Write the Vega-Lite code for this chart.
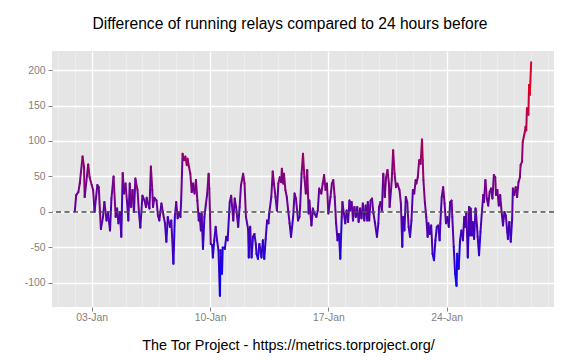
{
"$schema": "https://vega.github.io/schema/vega-lite/v6.json",
"width": 502, "height": 256,
"autosize": {"type": "none"},
"padding": {"left": 52, "top": 51, "right": 22, "bottom": 53},
"background": "white",
"config": {"view": {"fill": "#E5E5E5", "stroke": null}, "font": "Liberation Sans",
"axisY": {
"values": [-125, -100, -75, -50, -25, 0, 25, 50, 75, 100, 125, 150, 175, 200, 225],
"labelExpr": "datum.value % 50 == 0 ? '' + datum.value : ''",
"grid": true,
"gridColor": {"condition": {"test": "datum.value % 50 == 0", "value": "#FFFFFF"}, "value": "#F2F2F2"},
"gridWidth": {"condition": {"test": "datum.value % 50 == 0", "value": 1.3}, "value": 0.6},
"tickColor": {"condition": {"test": "datum.value % 50 == 0", "value": "#7F7F7F"}, "value": "transparent"},
"tickSize": 4, "tickWidth": 1,
"domain": false,
"labelColor": "#7F7F7F", "labelFontSize": 10.4, "labelPadding": 3, "labelOverlap": false, "labelFlush": false,
"title": null
}},
"title": {"text": "Difference of running relays compared to 24 hours before", "fontSize": 15.6, "fontWeight": "normal", "color": "#000000", "font": "Liberation Sans", "anchor": "middle", "offset": 18, "dx": -13},
"data": {"format": {"parse": {"t": "date"}}, "values": [
{"t":"2014-01-02T00:00","v":1},{"t":"2014-01-02T02:00","v":24},{"t":"2014-01-02T05:00","v":28},{"t":"2014-01-02T07:00","v":40},{"t":"2014-01-02T11:00","v":78},{"t":"2014-01-02T13:00","v":64},{"t":"2014-01-02T14:00","v":21},{"t":"2014-01-02T19:00","v":67},{"t":"2014-01-02T21:00","v":49},
{"t":"2014-01-03T00:00","v":38},{"t":"2014-01-03T02:00","v":31},{"t":"2014-01-03T04:00","v":0},{"t":"2014-01-03T08:00","v":38},{"t":"2014-01-03T10:00","v":35},{"t":"2014-01-03T13:00","v":-24},{"t":"2014-01-03T16:00","v":-7},{"t":"2014-01-03T18:00","v":14},{"t":"2014-01-03T21:00","v":-12},{"t":"2014-01-03T23:00","v":0},
{"t":"2014-01-04T02:00","v":-26},{"t":"2014-01-04T04:00","v":19},{"t":"2014-01-04T07:00","v":50},{"t":"2014-01-04T10:00","v":-7},{"t":"2014-01-04T12:00","v":5},{"t":"2014-01-04T14:00","v":-16},{"t":"2014-01-04T16:00","v":0},{"t":"2014-01-04T18:00","v":-35},{"t":"2014-01-04T20:00","v":55},{"t":"2014-01-04T22:00","v":26},
{"t":"2014-01-05T00:00","v":40},{"t":"2014-01-05T02:00","v":16},{"t":"2014-01-05T04:00","v":-12},{"t":"2014-01-05T06:00","v":40},{"t":"2014-01-05T08:00","v":7},{"t":"2014-01-05T10:00","v":31},{"t":"2014-01-05T12:00","v":0},{"t":"2014-01-05T14:00","v":47},{"t":"2014-01-05T17:00","v":31},{"t":"2014-01-05T19:00","v":0},{"t":"2014-01-05T21:00","v":-22},
{"t":"2014-01-06T00:00","v":23},{"t":"2014-01-06T03:00","v":16},{"t":"2014-01-06T05:00","v":7},{"t":"2014-01-06T06:00","v":20},{"t":"2014-01-06T08:00","v":12},{"t":"2014-01-06T10:00","v":5},{"t":"2014-01-06T12:00","v":64},{"t":"2014-01-06T14:00","v":31},{"t":"2014-01-06T15:00","v":7},{"t":"2014-01-06T17:00","v":20},{"t":"2014-01-06T20:00","v":16},{"t":"2014-01-06T22:00","v":-5},
{"t":"2014-01-07T00:00","v":-12},{"t":"2014-01-07T03:00","v":12},{"t":"2014-01-07T05:00","v":0},{"t":"2014-01-07T08:00","v":-16},{"t":"2014-01-07T10:00","v":-42},{"t":"2014-01-07T12:00","v":-7},{"t":"2014-01-07T15:00","v":-21},{"t":"2014-01-07T17:00","v":-12},{"t":"2014-01-07T20:00","v":-73},{"t":"2014-01-07T22:00","v":-7},
{"t":"2014-01-08T00:00","v":14},{"t":"2014-01-08T02:00","v":-9},{"t":"2014-01-08T04:00","v":0},{"t":"2014-01-08T06:00","v":-7},{"t":"2014-01-08T07:00","v":16},{"t":"2014-01-08T09:00","v":82},{"t":"2014-01-08T11:00","v":73},{"t":"2014-01-08T13:00","v":78},{"t":"2014-01-08T15:00","v":66},{"t":"2014-01-08T16:00","v":75},{"t":"2014-01-08T18:00","v":64},{"t":"2014-01-08T20:00","v":54},{"t":"2014-01-08T22:00","v":28},
{"t":"2014-01-09T00:00","v":40},{"t":"2014-01-09T02:00","v":26},{"t":"2014-01-09T04:00","v":45},{"t":"2014-01-09T06:00","v":16},{"t":"2014-01-09T08:00","v":-12},{"t":"2014-01-09T09:00","v":-2},{"t":"2014-01-09T11:00","v":-26},{"t":"2014-01-09T12:00","v":-2},{"t":"2014-01-09T14:00","v":-52},{"t":"2014-01-09T16:00","v":-7},{"t":"2014-01-09T18:00","v":10},{"t":"2014-01-09T20:00","v":26},{"t":"2014-01-09T22:00","v":54},{"t":"2014-01-09T23:00","v":33},
{"t":"2014-01-10T01:00","v":-45},{"t":"2014-01-10T03:00","v":-47},{"t":"2014-01-10T04:00","v":-64},{"t":"2014-01-10T06:00","v":-40},{"t":"2014-01-10T08:00","v":-21},{"t":"2014-01-10T10:00","v":-40},{"t":"2014-01-10T12:00","v":-54},{"t":"2014-01-10T14:00","v":-118},{"t":"2014-01-10T15:00","v":-54},{"t":"2014-01-10T17:00","v":-87},{"t":"2014-01-10T18:00","v":-50},{"t":"2014-01-10T21:00","v":-52},{"t":"2014-01-10T23:00","v":-35},
{"t":"2014-01-11T01:00","v":-40},{"t":"2014-01-11T04:00","v":14},{"t":"2014-01-11T06:00","v":23},{"t":"2014-01-11T09:00","v":-12},{"t":"2014-01-11T11:00","v":19},{"t":"2014-01-11T13:00","v":7},{"t":"2014-01-11T16:00","v":-21},{"t":"2014-01-11T18:00","v":7},{"t":"2014-01-11T20:00","v":38},{"t":"2014-01-11T23:00","v":54},
{"t":"2014-01-12T01:00","v":40},{"t":"2014-01-12T03:00","v":-7},{"t":"2014-01-12T06:00","v":-24},{"t":"2014-01-12T07:00","v":-64},{"t":"2014-01-12T09:00","v":-21},{"t":"2014-01-12T11:00","v":-64},{"t":"2014-01-12T13:00","v":-35},{"t":"2014-01-12T15:00","v":-31},{"t":"2014-01-12T17:00","v":-45},{"t":"2014-01-12T18:00","v":-59},{"t":"2014-01-12T20:00","v":-66},{"t":"2014-01-12T22:00","v":-45},
{"t":"2014-01-13T01:00","v":-64},{"t":"2014-01-13T03:00","v":-40},{"t":"2014-01-13T05:00","v":-66},{"t":"2014-01-13T07:00","v":-38},{"t":"2014-01-13T09:00","v":-12},{"t":"2014-01-13T11:00","v":-16},{"t":"2014-01-13T12:00","v":-2},{"t":"2014-01-13T15:00","v":21},{"t":"2014-01-13T17:00","v":57},{"t":"2014-01-13T19:00","v":38},{"t":"2014-01-13T21:00","v":21},{"t":"2014-01-13T23:00","v":2},
{"t":"2014-01-14T01:00","v":40},{"t":"2014-01-14T03:00","v":49},{"t":"2014-01-14T05:00","v":42},{"t":"2014-01-14T06:00","v":61},{"t":"2014-01-14T08:00","v":40},{"t":"2014-01-14T09:00","v":54},{"t":"2014-01-14T11:00","v":31},{"t":"2014-01-14T13:00","v":21},{"t":"2014-01-14T15:00","v":2},{"t":"2014-01-14T17:00","v":-16},{"t":"2014-01-14T19:00","v":-35},{"t":"2014-01-14T22:00","v":-7},
{"t":"2014-01-15T00:00","v":26},{"t":"2014-01-15T02:00","v":19},{"t":"2014-01-15T05:00","v":-12},{"t":"2014-01-15T07:00","v":-7},{"t":"2014-01-15T08:00","v":9},{"t":"2014-01-15T10:00","v":54},{"t":"2014-01-15T12:00","v":82},{"t":"2014-01-15T14:00","v":49},{"t":"2014-01-15T16:00","v":26},{"t":"2014-01-15T18:00","v":59},{"t":"2014-01-15T20:00","v":-2},{"t":"2014-01-15T21:00","v":16},
{"t":"2014-01-16T00:00","v":-19},{"t":"2014-01-16T02:00","v":5},{"t":"2014-01-16T04:00","v":-2},{"t":"2014-01-16T07:00","v":-7},{"t":"2014-01-16T09:00","v":2},{"t":"2014-01-16T11:00","v":33},{"t":"2014-01-16T14:00","v":26},{"t":"2014-01-16T16:00","v":40},{"t":"2014-01-16T18:00","v":52},{"t":"2014-01-16T20:00","v":31},{"t":"2014-01-16T22:00","v":40},
{"t":"2014-01-17T00:00","v":-2},{"t":"2014-01-17T03:00","v":21},{"t":"2014-01-17T05:00","v":40},{"t":"2014-01-17T07:00","v":45},{"t":"2014-01-17T09:00","v":21},{"t":"2014-01-17T11:00","v":-16},{"t":"2014-01-17T13:00","v":-40},{"t":"2014-01-17T15:00","v":-31},{"t":"2014-01-17T17:00","v":-66},{"t":"2014-01-17T19:00","v":-7},{"t":"2014-01-17T20:00","v":14},{"t":"2014-01-17T22:00","v":-2},
{"t":"2014-01-18T00:00","v":-16},{"t":"2014-01-18T02:00","v":2},{"t":"2014-01-18T04:00","v":-14},{"t":"2014-01-18T06:00","v":16},{"t":"2014-01-18T07:00","v":2},{"t":"2014-01-18T09:00","v":14},{"t":"2014-01-18T11:00","v":-12},{"t":"2014-01-18T13:00","v":7},{"t":"2014-01-18T15:00","v":-7},{"t":"2014-01-18T17:00","v":7},{"t":"2014-01-18T19:00","v":-14},{"t":"2014-01-18T21:00","v":5},{"t":"2014-01-18T23:00","v":-9},
{"t":"2014-01-19T01:00","v":12},{"t":"2014-01-19T03:00","v":-12},{"t":"2014-01-19T05:00","v":9},{"t":"2014-01-19T07:00","v":-12},{"t":"2014-01-19T08:00","v":14},{"t":"2014-01-19T10:00","v":-12},{"t":"2014-01-19T12:00","v":16},{"t":"2014-01-19T14:00","v":19},{"t":"2014-01-19T16:00","v":-2},{"t":"2014-01-19T18:00","v":-14},{"t":"2014-01-19T21:00","v":-35},{"t":"2014-01-19T23:00","v":-16},
{"t":"2014-01-20T00:00","v":7},{"t":"2014-01-20T02:00","v":14},{"t":"2014-01-20T04:00","v":2},{"t":"2014-01-20T06:00","v":54},{"t":"2014-01-20T08:00","v":21},{"t":"2014-01-20T10:00","v":49},{"t":"2014-01-20T12:00","v":59},{"t":"2014-01-20T14:00","v":40},{"t":"2014-01-20T15:00","v":7},{"t":"2014-01-20T17:00","v":31},{"t":"2014-01-20T18:00","v":45},{"t":"2014-01-20T20:00","v":87},{"t":"2014-01-20T22:00","v":54},
{"t":"2014-01-21T00:00","v":35},{"t":"2014-01-21T02:00","v":40},{"t":"2014-01-21T05:00","v":31},{"t":"2014-01-21T07:00","v":12},{"t":"2014-01-21T09:00","v":-49},{"t":"2014-01-21T10:00","v":-7},{"t":"2014-01-21T12:00","v":-26},{"t":"2014-01-21T14:00","v":21},{"t":"2014-01-21T16:00","v":14},{"t":"2014-01-21T18:00","v":-21},{"t":"2014-01-21T20:00","v":-35},{"t":"2014-01-21T22:00","v":-12},
{"t":"2014-01-22T00:00","v":31},{"t":"2014-01-22T02:00","v":26},{"t":"2014-01-22T04:00","v":45},{"t":"2014-01-22T05:00","v":40},{"t":"2014-01-22T07:00","v":49},{"t":"2014-01-22T09:00","v":73},{"t":"2014-01-22T11:00","v":68},{"t":"2014-01-22T13:00","v":102},{"t":"2014-01-22T14:00","v":73},{"t":"2014-01-22T15:00","v":45},{"t":"2014-01-22T17:00","v":14},{"t":"2014-01-22T19:00","v":-7},{"t":"2014-01-22T21:00","v":-35},{"t":"2014-01-22T22:00","v":-16},
{"t":"2014-01-23T00:00","v":-31},{"t":"2014-01-23T02:00","v":-19},{"t":"2014-01-23T04:00","v":-59},{"t":"2014-01-23T06:00","v":-68},{"t":"2014-01-23T08:00","v":-40},{"t":"2014-01-23T10:00","v":-21},{"t":"2014-01-23T12:00","v":-19},{"t":"2014-01-23T14:00","v":-40},{"t":"2014-01-23T15:00","v":-16},{"t":"2014-01-23T17:00","v":21},{"t":"2014-01-23T19:00","v":35},{"t":"2014-01-23T21:00","v":12},{"t":"2014-01-23T23:00","v":-16},
{"t":"2014-01-24T01:00","v":-7},{"t":"2014-01-24T03:00","v":-21},{"t":"2014-01-24T05:00","v":14},{"t":"2014-01-24T07:00","v":16},{"t":"2014-01-24T08:00","v":-7},{"t":"2014-01-24T10:00","v":-49},{"t":"2014-01-24T12:00","v":-87},{"t":"2014-01-24T14:00","v":-104},{"t":"2014-01-24T15:00","v":-59},{"t":"2014-01-24T17:00","v":-80},{"t":"2014-01-24T19:00","v":-40},{"t":"2014-01-24T21:00","v":-26},{"t":"2014-01-24T23:00","v":-40},
{"t":"2014-01-25T01:00","v":-7},{"t":"2014-01-25T02:00","v":-21},{"t":"2014-01-25T04:00","v":-2},{"t":"2014-01-25T06:00","v":-64},{"t":"2014-01-25T08:00","v":7},{"t":"2014-01-25T09:00","v":-33},{"t":"2014-01-25T10:00","v":5},{"t":"2014-01-25T12:00","v":-33},{"t":"2014-01-25T13:00","v":-14},{"t":"2014-01-25T15:00","v":-38},{"t":"2014-01-25T17:00","v":5},{"t":"2014-01-25T19:00","v":-19},{"t":"2014-01-25T20:00","v":-35},{"t":"2014-01-25T22:00","v":-61},
{"t":"2014-01-26T00:00","v":-28},{"t":"2014-01-26T02:00","v":0},{"t":"2014-01-26T04:00","v":24},{"t":"2014-01-26T05:00","v":14},{"t":"2014-01-26T07:00","v":45},{"t":"2014-01-26T09:00","v":19},{"t":"2014-01-26T11:00","v":9},{"t":"2014-01-26T13:00","v":28},{"t":"2014-01-26T15:00","v":33},{"t":"2014-01-26T17:00","v":19},{"t":"2014-01-26T19:00","v":52},{"t":"2014-01-26T21:00","v":49},{"t":"2014-01-26T22:00","v":24},
{"t":"2014-01-27T00:00","v":31},{"t":"2014-01-27T02:00","v":9},{"t":"2014-01-27T04:00","v":24},{"t":"2014-01-27T06:00","v":0},{"t":"2014-01-27T08:00","v":-19},{"t":"2014-01-27T10:00","v":0},{"t":"2014-01-27T12:00","v":-5},{"t":"2014-01-27T14:00","v":-28},{"t":"2014-01-27T15:00","v":-38},{"t":"2014-01-27T17:00","v":-14},{"t":"2014-01-27T19:00","v":-42},{"t":"2014-01-27T21:00","v":-9},{"t":"2014-01-27T22:00","v":33},
{"t":"2014-01-28T00:00","v":24},{"t":"2014-01-28T02:00","v":35},{"t":"2014-01-28T04:00","v":21},{"t":"2014-01-28T06:00","v":42},{"t":"2014-01-28T08:00","v":49},{"t":"2014-01-28T09:00","v":66},{"t":"2014-01-28T11:00","v":71},{"t":"2014-01-28T12:00","v":99},{"t":"2014-01-28T14:00","v":108},{"t":"2014-01-28T15:00","v":113},{"t":"2014-01-28T16:00","v":120},{"t":"2014-01-28T17:00","v":115},{"t":"2014-01-28T18:00","v":146},{"t":"2014-01-28T20:00","v":137},{"t":"2014-01-28T21:00","v":179},{"t":"2014-01-28T22:00","v":165},
{"t":"2014-01-29T00:00","v":211}
]},
"layer": [
{
"transform": [
{"window": [{"op": "lead", "field": "t", "as": "t2"}, {"op": "lead", "field": "v", "as": "v2"}], "sort": [{"field": "t"}]},
{"filter": "datum.t2 != null"}
],
"mark": {"type": "rule", "strokeWidth": 2, "strokeCap": "round"},
"encoding": {
"x": {"field": "t", "type": "temporal",
"scale": {"domain": [{"year": 2013, "month": 12, "date": 31, "hours": 15, "minutes": 36}, {"year": 2014, "month": 1, "date": 30, "hours": 8, "minutes": 24}]},
"axis": {
"values": [{"year":2014,"month":1,"date":1},{"year":2014,"month":1,"date":2},{"year":2014,"month":1,"date":3},{"year":2014,"month":1,"date":4},{"year":2014,"month":1,"date":5},{"year":2014,"month":1,"date":6},{"year":2014,"month":1,"date":7},{"year":2014,"month":1,"date":8},{"year":2014,"month":1,"date":9},{"year":2014,"month":1,"date":10},{"year":2014,"month":1,"date":11},{"year":2014,"month":1,"date":12},{"year":2014,"month":1,"date":13},{"year":2014,"month":1,"date":14},{"year":2014,"month":1,"date":15},{"year":2014,"month":1,"date":16},{"year":2014,"month":1,"date":17},{"year":2014,"month":1,"date":18},{"year":2014,"month":1,"date":19},{"year":2014,"month":1,"date":20},{"year":2014,"month":1,"date":21},{"year":2014,"month":1,"date":22},{"year":2014,"month":1,"date":23},{"year":2014,"month":1,"date":24},{"year":2014,"month":1,"date":25},{"year":2014,"month":1,"date":26},{"year":2014,"month":1,"date":27},{"year":2014,"month":1,"date":28},{"year":2014,"month":1,"date":29},{"year":2014,"month":1,"date":30}],
"format": "%d-%b",
"labelExpr": "date(datum.value) % 7 == 3 ? datum.label : ''",
"grid": true,
"gridColor": {"condition": {"test": "date(datum.value) % 7 == 3", "value": "#FFFFFF"}, "value": "#F2F2F2"},
"gridWidth": {"condition": {"test": "date(datum.value) % 7 == 3", "value": 1.3}, "value": 0.6},
"tickColor": {"condition": {"test": "date(datum.value) % 7 == 3", "value": "#7F7F7F"}, "value": "transparent"},
"tickSize": 4, "tickWidth": 1,
"domain": false,
"labelColor": "#7F7F7F", "labelFontSize": 10.4, "labelPadding": 1, "labelOverlap": false, "labelFlush": false,
"title": "The Tor Project - https://metrics.torproject.org/",
"titleFontSize": 14.4, "titleFontWeight": "normal", "titleColor": "#000000", "titleFont": "Liberation Sans",
"titleX": 236, "titleY": 42, "titleBaseline": "alphabetic", "titleAlign": "center"
}},
"x2": {"field": "t2"},
"y": {"field": "v", "type": "quantitative",
"scale": {"domain": [-133.9, 226.8], "nice": false, "zero": false}},
"y2": {"field": "v2"},
"color": {"field": "v", "type": "quantitative", "scale": {"domain": [-118, 211], "range": ["#0000FF", "#FF0000"], "interpolate": "rgb"}, "legend": null}
}
},
{
"data": {"values": [{"z": 0}]},
"mark": {"type": "rule", "strokeDash": [5, 3.5], "strokeWidth": 1.6, "color": "#4D4D4D"},
"encoding": {"y": {"field": "z", "type": "quantitative"}}
}
]
}
